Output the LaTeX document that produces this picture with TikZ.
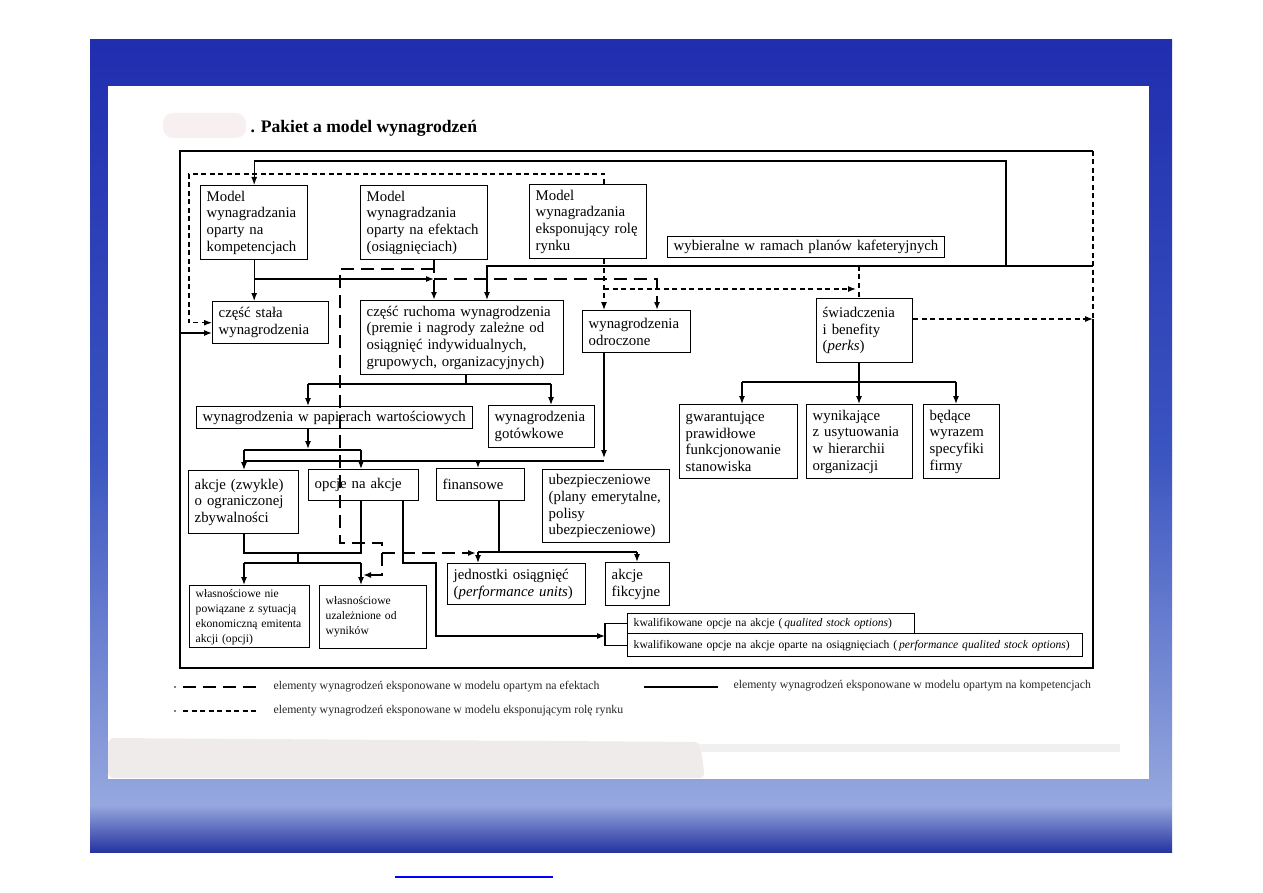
\documentclass[tikz,border=0pt]{standalone}
\usepackage{fontspec}
\setmainfont{Liberation Serif}
\usepackage{tikz}
\usetikzlibrary{arrows.meta, calc}

\definecolor{granat}{RGB}{32,46,175}
\definecolor{blekit}{RGB}{58,84,192}
\definecolor{jasny}{RGB}{150,168,222}
\definecolor{dolny}{RGB}{38,52,160}
\definecolor{smuga}{RGB}{248,240,240}
\definecolor{szary}{RGB}{240,235,235}

\begin{document}
\begin{tikzpicture}[x=1pt, y=-1pt, >={Latex[length=8pt,width=6pt]},
    pole/.style={draw, line width=1.4pt, anchor=north west, align=left,
        inner xsep=6pt, inner ysep=2pt, font=\fontsize{14.8}{16.7}\selectfont},
    polem/.style={pole, font=\fontsize{11.6}{15}\selectfont},
    linia/.style={line width=1.2pt},
    ramka/.style={line width=1.6pt},
    efekty/.style={line width=2.4pt, dash pattern=on 13pt off 7pt},
    rynek/.style={line width=1.2pt, dash pattern=on 5pt off 3.5pt},
    legenda/.style={anchor=west, font=\fontsize{11.8}{14}\selectfont, text=black!85}]

    % Tło slajdu
    \useasboundingbox (0,0) rectangle (1263,893);
    \fill[white] (0,0) rectangle (1263,893);
    \shade[top color=granat, bottom color=blekit] (90,40) rectangle (1172,450);
    \shade[top color=blekit, bottom color=jasny] (90,450) rectangle (1172,805);
    \shade[top color=jasny, bottom color=dolny] (90,805) rectangle (1172,852);
    \fill[white] (108,86) rectangle (1149,779);
    \fill[smuga, rounded corners=10pt] (163,113) rectangle (246,138);
    \fill[szary, rounded corners=6pt] (108,738) -- (700,742) -- (705,778) -- (108,778) -- cycle;
    \fill[black!6] (700,744) rectangle (1120,752);
    \draw[blue, line width=1.6pt] (395,877) -- (553,877);

    % Tytuł
    \node[font=\fontsize{17.6}{20}\selectfont\bfseries, anchor=base west] (tytul) at (247,133) {. Pakiet a model wynagrodzeń};

    % Modele
    \node[pole, text width=95pt, minimum height=74pt] (mkomp) at (200,185) {Model\\wynagradzania\\oparty na\\kompetencjach};
    \node[pole, text width=115pt, minimum height=74pt] (mefekt) at (360,185) {Model\\wynagradzania\\oparty na efektach\\(osiągnięciach)};
    \node[pole, text width=105pt, minimum height=74pt] (mrynek) at (529,184) {Model\\wynagradzania\\eksponujący rolę\\rynku};
    \node[pole, text width=265pt, minimum height=21pt] (kafet) at (667,236) {wybieralne w ramach planów kafeteryjnych};

    % Składniki wynagrodzenia
    \node[pole, text width=104pt, minimum height=42pt] (stala) at (212,301) {część stała\\wynagrodzenia};
    \node[pole, text width=191pt, minimum height=74pt] (ruchoma) at (360,300) {część ruchoma wynagrodzenia\\(premie i nagrody zależne od\\osiągnięć indywidualnych,\\grupowych, organizacyjnych)};
    \node[pole, text width=96pt, minimum height=42pt] (odroczone) at (582,310) {wynagrodzenia\\odroczone};
    \node[pole, text width=84pt, minimum height=64pt] (swiadcz) at (816,298) {świadczenia\\i benefity\\(\textit{perks})};

    \node[pole, text width=264pt, minimum height=22pt] (papiery) at (196,406) {wynagrodzenia w papierach wartościowych};
    \node[pole, text width=94pt, minimum height=42pt] (gotowka) at (488,405) {wynagrodzenia\\gotówkowe};
    \node[pole, text width=106pt, minimum height=74pt] (gwar) at (679,404) {gwarantujące\\prawidłowe\\funkcjonowanie\\stanowiska};
    \node[pole, text width=94pt, minimum height=74pt] (wynik) at (806,404) {wynikające\\z usytuowania\\w hierarchii\\organizacji};
    \node[pole, text width=64pt, minimum height=74pt] (bedace) at (923,404) {będące\\wyrazem\\specyfiki\\firmy};

    \node[pole, text width=98pt, minimum height=63pt] (akcje) at (188,470) {akcje (zwykle)\\o ograniczonej\\zbywalności};
    \node[pole, text width=98pt, minimum height=31pt] (opcje) at (308,469) {opcje na akcje};
    \node[pole, text width=76pt, minimum height=32pt] (finans) at (436,468) {finansowe};
    \node[pole, text width=115pt, minimum height=73pt] (ubezp) at (542,469) {ubezpieczeniowe\\(plany emerytalne,\\polisy\\ubezpieczeniowe)};

    \node[pole, text width=126pt, minimum height=41pt] (jednostki) at (447,563) {jednostki osiągnięć\\(\textit{performance units})};
    \node[pole, text width=52pt, minimum height=43pt] (fikcyjne) at (605,562) {akcje\\fikcyjne};
    \node[polem, text width=108pt, minimum height=62pt] (wlasnA) at (189,585) {własnościowe nie\\powiązane z sytuacją\\ekonomiczną emitenta\\akcji (opcji)};
    \node[polem, text width=95pt, minimum height=63pt] (wlasnB) at (319,585) {własnościowe\\uzależnione od\\wyników};
    \node[polem, text width=275pt, minimum height=20pt] (kwalA) at (627,613) {kwalifikowane opcje na akcje (\,\textit{qualited stock options})};
    \node[polem, text width=443pt, minimum height=23pt] (kwalB) at (627,633) {kwalifikowane opcje na akcje oparte na osiągnięciach (\,\textit{performance qualited stock options})};

    % Punkty węzłowe
    \coordinate (k0) at (1093,266);
    \coordinate (k1) at (1006,266);
    \coordinate (k2) at (1006,161);
    \coordinate (k3) at (487,266);
    \coordinate (L1) at (180,333);
    \coordinate (e1) at (434,279);
    \coordinate (e2) at (434,269);
    \coordinate (e3) at (340,269);
    \coordinate (e4) at (340,543);
    \coordinate (e5) at (382,543);
    \coordinate (e6) at (382,575);
    \coordinate (e7) at (363,575);
    \coordinate (e8) at (382,553);
    \coordinate (e9) at (476,553);
    \coordinate (e10) at (657,279);
    \coordinate (b1) at (466,384);
    \coordinate (b2) at (308,384);
    \coordinate (b3) at (551,384);
    \coordinate (c1) at (308,449);
    \coordinate (c2) at (244,450);
    \coordinate (c3) at (361,450);
    \coordinate (d1) at (604,458);
    \coordinate (d2) at (244,461);
    \coordinate (d3) at (604,461);
    \coordinate (d4) at (478,461);
    \coordinate (f1) at (244,553);
    \coordinate (f2) at (361,553);
    \coordinate (f3) at (298,553);
    \coordinate (f4) at (298,563);
    \coordinate (f5) at (244,563);
    \coordinate (f6) at (361,563);
    \coordinate (g1) at (403,563);
    \coordinate (g2) at (436,563);
    \coordinate (g3) at (436,636);
    \coordinate (g4) at (605,636);
    \coordinate (h1) at (499,552);
    \coordinate (h2) at (478,552);
    \coordinate (h3) at (637,552);
    \coordinate (s0) at (859,266);
    \coordinate (s1) at (859,382);
    \coordinate (s2) at (742,382);
    \coordinate (s3) at (956,382);
    \coordinate (m1) at (604,174);
    \coordinate (m2) at (189,174);
    \coordinate (m3) at (604,289);
    \coordinate (m4) at (856,289);
    \coordinate (m5) at (1093,319);
    \coordinate (m6) at (1093,151);

    % Ramka (model kompetencyjny)
    \draw[ramka] (m5) -- (1093,668) -- (180,668) -- (180,151) -- (m6);

    % Linie ciągłe: model oparty na kompetencjach
    \draw[linia, ->] (k0) -- (k3) -- (k3 |- ruchoma.north);
    \draw[linia, ->] (k1) -- (k2) -| (mkomp.north);
    \draw[linia, ->] (mkomp.south) -- (mkomp.south |- stala.north);
    \draw[linia, ->] (mkomp.south |- e1) -- (e1);
    \draw[linia, ->] (L1) -- (stala.west |- L1);
    \draw[linia] (ruchoma.south -| b1) -- (b1);
    \draw[linia] (b2) -- (b3);
    \draw[linia, ->] (b2) -- (b2 |- papiery.north);
    \draw[linia, ->] (b3) -- (b3 |- gotowka.north);
    \draw[linia, ->] (papiery.south -| c1) -- (c1);
    \draw[linia] (c2) -- (c3);
    \draw[linia, ->] (c2) -- (c2 |- akcje.north);
    \draw[linia, ->] (c3) -- (c3 |- opcje.north);
    \draw[linia, ->] (odroczone.south -| d1) -- (d1);
    \draw[linia] (d2) -- (d3);
    \draw[linia, ->] (d4) -- (d4 |- finans.north);
    \draw[linia] (akcje.south -| f1) -- (f1) -- (f2) -- (opcje.south -| f2);
    \draw[linia] (f3) -- (f4);
    \draw[linia] (f5) -- (f6);
    \draw[linia, ->] (f5) -- (f5 |- wlasnA.north);
    \draw[linia, ->] (f6) -- (f6 |- wlasnB.north);
    \draw[linia, ->] (opcje.south -| g1) -- (g1) -- (g2) -- (g3) -- (g4);
    \draw[linia] (kwalA.west) -- (kwalA.west -| g4) -- (kwalB.west -| g4) -- (kwalB.west);
    \draw[linia] (finans.south -| h1) -- (h1);
    \draw[linia] (h2) -- (h3);
    \draw[linia, ->] (h2) -- (h2 |- jednostki.north);
    \draw[linia, ->] (h3) -- (h3 |- fikcyjne.north);
    \draw[linia] (swiadcz.south -| s1) -- (s1);
    \draw[linia] (s2) -- (s3);
    \foreach \p/\n in {s2/gwar, s1/wynik, s3/bedace}
        \draw[linia, ->] (\p) -- (\p |- \n.north);

    % Linie grube przerywane: model oparty na efektach
    \draw[efekty, ->] (mefekt.south -| e1) -- (e1 |- ruchoma.north);
    \draw[efekty, ->] (e2) -- (e3) -- (e4) -- (e5) -- (e6) -- (e7);
    \draw[efekty, ->] (e8) -- (e9);
    \draw[efekty, ->] (e1) -- (e10) -- (e10 |- odroczone.north);

    % Linie cienkie przerywane: model eksponujący rolę rynku
    \draw[rynek, ->] (mrynek.north -| m1) -- (m1) -- (m2) -- (m2 |- stala.west) -- (stala.west);
    \draw[rynek, ->] (mrynek.south -| m1) -- (m1 |- odroczone.north);
    \draw[rynek, ->] (m3) -- (m4);
    \draw[rynek] (s0) -- (s0 |- swiadcz.north);
    \draw[rynek, ->] (swiadcz.east |- m5) -- (m5);
    \draw[rynek] (m6) -- (m5);

    % Legenda
    \fill (175,687) circle (0.9);
    \draw[efekty] (183,687) -- (257,687);
    \node[legenda] (leg1) at (270,687) {elementy wynagrodzeń eksponowane w modelu opartym na efektach};
    \draw[linia] (644,687) -- (718,687);
    \node[legenda] (leg2) at (730,686) {elementy wynagrodzeń eksponowane w modelu opartym na kompetencjach};
    \fill (175,711) circle (0.9);
    \draw[rynek] (183,711) -- (257,711);
    \node[legenda] (leg3) at (270,711) {elementy wynagrodzeń eksponowane w modelu eksponującym rolę rynku};

\end{tikzpicture}
\end{document}
